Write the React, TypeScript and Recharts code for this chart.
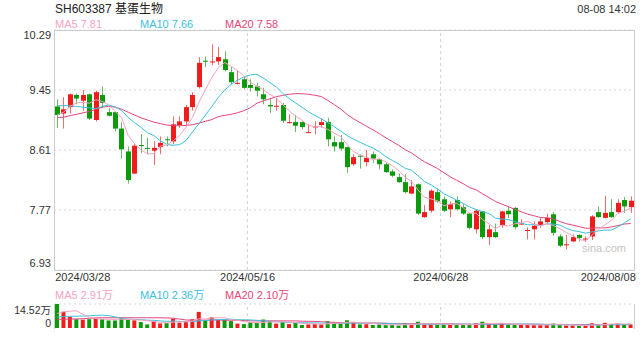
import React from "react";
import {
  ComposedChart,
  Bar,
  Line,
  XAxis,
  YAxis,
  CartesianGrid,
  ReferenceLine,
  Cell,
} from "recharts";

const dates = [
  "2024/03/28", "2024/03/29",
  "2024/04/01", "2024/04/02", "2024/04/03", "2024/04/08", "2024/04/09", "2024/04/10", "2024/04/11", "2024/04/12",
  "2024/04/15", "2024/04/16", "2024/04/17", "2024/04/18", "2024/04/19", "2024/04/22", "2024/04/23", "2024/04/24",
  "2024/04/25", "2024/04/26", "2024/04/29", "2024/04/30",
  "2024/05/06", "2024/05/07", "2024/05/08", "2024/05/09", "2024/05/10", "2024/05/13", "2024/05/14", "2024/05/15",
  "2024/05/16", "2024/05/17", "2024/05/20", "2024/05/21", "2024/05/22", "2024/05/23", "2024/05/24", "2024/05/27",
  "2024/05/28", "2024/05/29", "2024/05/30", "2024/05/31",
  "2024/06/03", "2024/06/04", "2024/06/05", "2024/06/06", "2024/06/07", "2024/06/11", "2024/06/12", "2024/06/13",
  "2024/06/14", "2024/06/17", "2024/06/18", "2024/06/19", "2024/06/20", "2024/06/21", "2024/06/24", "2024/06/25",
  "2024/06/26", "2024/06/27", "2024/06/28",
  "2024/07/01", "2024/07/02", "2024/07/03", "2024/07/04", "2024/07/05", "2024/07/08", "2024/07/09", "2024/07/10",
  "2024/07/11", "2024/07/12", "2024/07/15", "2024/07/16", "2024/07/17", "2024/07/18", "2024/07/19", "2024/07/22",
  "2024/07/23", "2024/07/24", "2024/07/25", "2024/07/26", "2024/07/29", "2024/07/30", "2024/07/31",
  "2024/08/01", "2024/08/02", "2024/08/05", "2024/08/06", "2024/08/07", "2024/08/08",
];

const opens = [
  9.22, 9.12, 9.21, 9.38, 9.30, 9.39, 9.03, 9.38, 9.14, 9.14,
  8.91, 8.59, 8.28, 8.68, 8.64, 8.60, 8.65, 8.76, 8.73, 8.96,
  9.01, 9.21, 9.49, 9.86, 9.84, 9.85, 9.88, 9.70, 9.54, 9.60,
  9.52, 9.50, 9.39, 9.24, 9.22, 9.24, 8.99, 9.00, 9.00, 8.85,
  8.93, 8.96, 9.00, 8.72, 8.72, 8.65, 8.41, 8.53, 8.44, 8.55,
  8.48, 8.41, 8.31, 8.23, 8.16, 8.00, 8.13, 7.67, 7.76, 8.02,
  7.92, 7.78, 7.91, 7.81, 7.72, 7.50, 7.75, 7.39, 7.46, 7.56,
  7.76, 7.80, 7.57, 7.48, 7.50, 7.56, 7.60, 7.71, 7.40, 7.28,
  7.33, 7.42, 7.36, 7.40, 7.74, 7.66, 7.74, 7.74, 7.91, 7.81,
];
const highs = [
  9.32, 9.35, 9.40, 9.40, 9.45, 9.40, 9.44, 9.50, 9.20, 9.15,
  9.00, 8.66, 8.69, 8.83, 8.78, 8.73, 8.80, 8.80, 9.08, 9.08,
  9.24, 9.42, 9.91, 9.92, 10.09, 10.05, 9.99, 9.77, 9.72, 9.64,
  9.60, 9.55, 9.48, 9.32, 9.34, 9.27, 9.11, 9.10, 9.01, 8.97,
  9.01, 9.05, 9.06, 8.80, 8.82, 8.66, 8.55, 8.55, 8.61, 8.59,
  8.49, 8.43, 8.34, 8.28, 8.27, 8.19, 8.14, 7.84, 8.06, 8.07,
  7.96, 7.89, 7.96, 7.85, 7.73, 7.78, 7.76, 7.56, 7.58, 7.76,
  7.82, 7.81, 7.64, 7.53, 7.61, 7.66, 7.72, 7.74, 7.43, 7.42,
  7.43, 7.43, 7.40, 7.70, 7.82, 7.97, 7.92, 7.92, 7.95, 7.96,
];
const lows = [
  8.92, 8.91, 9.12, 9.25, 9.16, 9.03, 9.01, 9.20, 9.08, 8.87,
  8.49, 8.14, 8.27, 8.57, 8.55, 8.40, 8.55, 8.66, 8.69, 8.92,
  8.96, 9.16, 9.47, 9.77, 9.80, 9.80, 9.71, 9.53, 9.53, 9.46,
  9.43, 9.36, 9.25, 9.13, 9.16, 8.99, 8.98, 8.86, 8.90, 8.85,
  8.83, 8.92, 8.66, 8.59, 8.60, 8.29, 8.39, 8.35, 8.38, 8.43,
  8.34, 8.29, 8.23, 8.15, 8.00, 7.99, 7.70, 7.66, 7.73, 7.87,
  7.74, 7.67, 7.76, 7.70, 7.50, 7.44, 7.36, 7.28, 7.38, 7.52,
  7.66, 7.50, 7.56, 7.36, 7.36, 7.52, 7.57, 7.41, 7.25, 7.22,
  7.32, 7.33, 7.32, 7.35, 7.66, 7.65, 7.66, 7.72, 7.73, 7.73,
];
const closes = [
  9.10, 9.18, 9.39, 9.33, 9.38, 9.05, 9.42, 9.27, 9.09, 8.91,
  8.62, 8.19, 8.67, 8.67, 8.63, 8.64, 8.71, 8.75, 8.97, 9.01,
  9.21, 9.38, 9.83, 9.85, 9.85, 9.91, 9.73, 9.56, 9.55, 9.48,
  9.48, 9.44, 9.32, 9.22, 9.23, 9.02, 9.00, 8.95, 8.93, 8.86,
  8.94, 9.00, 8.76, 8.66, 8.63, 8.37, 8.51, 8.52, 8.50, 8.49,
  8.41, 8.30, 8.25, 8.16, 8.02, 8.10, 7.72, 7.74, 8.04, 7.89,
  7.76, 7.85, 7.78, 7.72, 7.52, 7.76, 7.39, 7.50, 7.39, 7.75,
  7.71, 7.53, 7.58, 7.49, 7.55, 7.61, 7.66, 7.45, 7.27, 7.29,
  7.39, 7.38, 7.37, 7.68, 7.67, 7.73, 7.67, 7.87, 7.82, 7.90,
];
// volume in 万手
const volumes = [
  14.52, 9.77, 6.74, 5.31, 5.03, 5.31, 6.07, 5.31, 4.56, 4.56,
  6.07, 5.12, 4.65, 3.61, 2.18, 4.18, 2.75, 2.94, 5.60, 3.23,
  4.08, 5.31, 9.77, 4.84, 6.45, 4.84, 5.03, 4.18, 2.66, 2.37,
  3.42, 3.13, 5.12, 4.18, 2.66, 3.61, 2.37, 3.23, 1.80, 2.18,
  2.47, 2.18, 4.08, 3.23, 2.75, 4.65, 3.13, 2.18, 2.28, 1.80,
  2.18, 1.71, 1.90, 1.52, 2.85, 2.18, 3.80, 2.18, 2.18, 1.90,
  2.18, 1.80, 2.18, 1.80, 2.18, 2.85, 3.80, 2.85, 2.18, 2.85,
  1.80, 1.80, 1.80, 1.80, 1.80, 1.80, 1.80, 2.66, 1.80, 1.52,
  1.52, 1.23, 1.52, 2.85, 1.80, 3.13, 2.47, 2.66, 2.18, 2.18,
];

// MA values before the window is full (they come from days before the chart)
const ma5Lead = [9.10, 9.14, 9.22, 9.27];
const ma10Lead = [9.23, 9.23, 9.23, 9.22, 9.21, 9.20, 9.19, 9.22, 9.24];
const ma20Lead = [
  9.06, 9.07, 9.09, 9.11, 9.13, 9.15, 9.18, 9.21, 9.22, 9.21,
  9.18, 9.14, 9.10, 9.06, 9.03, 9.00, 8.98, 8.96, 8.95,
];
const vma5Lead = [8.8, 9.8, 10.2, 10.4];
const vma10Lead = [6.7, 7.0, 7.1, 7.1, 7.2, 7.4, 7.6, 7.8, 7.5];
const vma20Lead = [
  5.3, 5.3, 5.4, 5.5, 5.6, 5.9, 6.1, 6.2, 6.2, 6.2,
  6.2, 6.2, 6.2, 6.2, 6.2, 6.2, 6.2, 6.1, 5.9,
];

const priceTicks = [6.93, 7.77, 8.61, 9.45, 10.29];
const dateTicks = [dates[0], dates[30], dates[60], dates[89]];
const volTicks = [0, 14.52];

const RED = "#f01b1b";
const GREEN = "#0a9a0a";
const C_MA5 = "#f7a3c0";
const C_MA10 = "#3cc1dc";
const C_MA20 = "#e7457a";
const FONT = '"Liberation Sans", Arial, "Noto Sans CJK SC", sans-serif';

function rolling(values: number[], n: number, lead: number[]) {
  return values.map((_, i) => {
    if (i < lead.length) return lead[i];
    let s = 0;
    for (let k = i - n + 1; k <= i; k++) s += values[k];
    return s / n;
  });
}

const ma5 = rolling(closes, 5, ma5Lead);
const ma10 = rolling(closes, 10, ma10Lead);
const ma20 = rolling(closes, 20, ma20Lead);
const vma5 = rolling(volumes, 5, vma5Lead);
const vma10 = rolling(volumes, 10, vma10Lead);
const vma20 = rolling(volumes, 20, vma20Lead);

const rows = dates.map((date, i) => ({
  date,
  open: opens[i],
  high: highs[i],
  low: lows[i],
  close: closes[i],
  range: [lows[i], highs[i]],
  ma5: ma5[i],
  ma10: ma10[i],
  ma20: ma20[i],
  vol: volumes[i],
  vma5: vma5[i],
  vma10: vma10[i],
  vma20: vma20[i],
}));

const Candle = (props: any) => {
  const { x, y, width, height, payload } = props;
  const { open, close, high, low } = payload;
  const color = close >= open ? RED : GREEN;
  const span = high - low;
  const py = (v: number) => (span === 0 ? y : y + ((high - v) / span) * height);
  const cx = Math.round(x + width / 2) + 0.5;
  const top = py(Math.max(open, close));
  const bot = py(Math.min(open, close));
  const bw = 5;
  return (
    <g>
      <line x1={cx} x2={cx} y1={y} y2={y + height} stroke={color} strokeOpacity={0.65} />
      <rect x={cx - bw / 2} y={top} width={bw} height={Math.max(1, bot - top)} fill={color} />
    </g>
  );
};

const PriceTick = (props: any) => {
  const { x, y, payload } = props;
  const v = payload.value;
  const dy = v === 10.29 ? 5 : v === 6.93 ? -7 : 0;
  return (
    <text x={x} y={y + dy} dy="0.35em" textAnchor="end" fontSize={11} fill="#333" fontFamily={FONT}>
      {v.toFixed(2)}
    </text>
  );
};

const DateTick = (props: any) => {
  const { x, y, payload } = props;
  const v = payload.value;
  let anchor: "start" | "middle" | "end" = "middle";
  let dx = -3;
  if (v === dates[0]) { anchor = "start"; dx = -2; }
  if (v === dates[dates.length - 1]) { anchor = "end"; dx = 5; }
  return (
    <text x={x + dx} y={y} dy="0.71em" textAnchor={anchor} fontSize={11} fill="#333" fontFamily={FONT}>
      {v}
    </text>
  );
};

const VolTick = (props: any) => {
  const { x, y, payload } = props;
  const v = payload.value;
  const label = v === 0 ? "0" : `${v.toFixed(2)}万`;
  const dy = v === 0 ? -5 : 6;
  return (
    <text x={x} y={y + dy} dy="0.35em" textAnchor="end" fontSize={10.5} fill="#333" fontFamily={FONT}>
      {label}
    </text>
  );
};

const abs = (left: number, top: number, extra: React.CSSProperties = {}): React.CSSProperties => ({
  position: "absolute",
  left,
  top,
  whiteSpace: "nowrap",
  fontFamily: FONT,
  ...extra,
});

export default function App() {
  return (
    <div style={{ position: "absolute", left: 0, top: 0, width: 640, height: 360, background: "#fff", overflow: "hidden" }}>
      <div style={abs(55, 1, { fontSize: 12, color: "#222", lineHeight: "16px" })}>SH603387 基蛋生物</div>
      <div style={abs(0, 2, { width: 636, textAlign: "right", fontSize: 11, color: "#333", lineHeight: "14px" })}>
        08-08 14:02
      </div>
      <div style={abs(55, 17, { fontSize: 11, color: C_MA5, lineHeight: "14px" })}>MA5 7.81</div>
      <div style={abs(140, 17, { fontSize: 11, color: C_MA10, lineHeight: "14px" })}>MA10 7.66</div>
      <div style={abs(225, 17, { fontSize: 11, color: C_MA20, lineHeight: "14px" })}>MA20 7.58</div>

      <div style={abs(0, 0)}>
        <ComposedChart width={640} height={290} data={rows} margin={{ top: 30, right: 6, bottom: 0, left: 0 }} barCategoryGap={0}>
          <CartesianGrid vertical={false} stroke="#d8d8d8" strokeDasharray="2 3" />
          <XAxis
            dataKey="date"
            ticks={dateTicks}
            interval={0}
            tickLine={false}
            axisLine={false}
            tickSize={0}
            tickMargin={3}
            height={20}
            tick={<DateTick />}
          />
          <YAxis
            domain={[6.93, 10.29]}
            ticks={priceTicks}
            interval={0}
            allowDataOverflow
            width={54}
            tickLine={false}
            axisLine={false}
            tickSize={0}
            tickMargin={3}
            tick={<PriceTick />}
          />
          <ReferenceLine x={dates[30]} position="start" stroke="#cfcfcf" strokeDasharray="3 3" />
          <ReferenceLine x={dates[60]} position="start" stroke="#cfcfcf" strokeDasharray="3 3" />
          <Bar dataKey="range" shape={<Candle />} isAnimationActive={false} />
          <Line dataKey="ma20" stroke={C_MA20} strokeWidth={1} dot={false} activeDot={false} isAnimationActive={false} />
          <Line dataKey="ma10" stroke={C_MA10} strokeWidth={1} dot={false} activeDot={false} isAnimationActive={false} />
          <Line dataKey="ma5" stroke={C_MA5} strokeWidth={1} dot={false} activeDot={false} isAnimationActive={false} />
        </ComposedChart>
      </div>
      <div style={abs(54, 30, { width: 581, height: 241, boxSizing: "border-box", border: "1px solid #cccccc", pointerEvents: "none" })} />
      <div style={abs(582, 241, { fontSize: 11, color: "#c4c4c4", lineHeight: "14px" })}>sina.com</div>

      <div style={abs(55, 288, { fontSize: 11, color: C_MA5, lineHeight: "14px" })}>MA5 2.91万</div>
      <div style={abs(140, 288, { fontSize: 11, color: C_MA10, lineHeight: "14px" })}>MA10 2.36万</div>
      <div style={abs(225, 288, { fontSize: 11, color: C_MA20, lineHeight: "14px" })}>MA20 2.10万</div>

      <div style={abs(0, 290)}>
        <ComposedChart width={640} height={45} data={rows} margin={{ top: 14, right: 6, bottom: 7, left: 0 }} barCategoryGap={0}>
          <CartesianGrid vertical={false} horizontalValues={[14.52]} stroke="#d8d8d8" strokeDasharray="2 3" />
          <XAxis dataKey="date" hide />
          <YAxis
            domain={[0, 14.52]}
            ticks={volTicks}
            interval={0}
            allowDataOverflow
            width={54}
            tickLine={false}
            axisLine={false}
            tickSize={0}
            tickMargin={3}
            tick={<VolTick />}
          />
          <ReferenceLine x={dates[30]} position="start" stroke="#cfcfcf" strokeDasharray="3 3" />
          <ReferenceLine x={dates[60]} position="start" stroke="#cfcfcf" strokeDasharray="3 3" />
          <Bar dataKey="vol" barSize={4} isAnimationActive={false}>
            {rows.map((r, i) => (
              <Cell key={i} fill={r.close >= r.open ? RED : GREEN} />
            ))}
          </Bar>
          <Line dataKey="vma20" stroke={C_MA20} strokeWidth={1} dot={false} activeDot={false} isAnimationActive={false} />
          <Line dataKey="vma10" stroke={C_MA10} strokeWidth={1} dot={false} activeDot={false} isAnimationActive={false} />
          <Line dataKey="vma5" stroke={C_MA5} strokeWidth={1} dot={false} activeDot={false} isAnimationActive={false} />
        </ComposedChart>
      </div>
      <div style={abs(54, 304, { width: 581, height: 25, boxSizing: "border-box", borderLeft: "1px solid #cccccc", borderRight: "1px solid #cccccc", pointerEvents: "none" })} />
    </div>
  );
}
